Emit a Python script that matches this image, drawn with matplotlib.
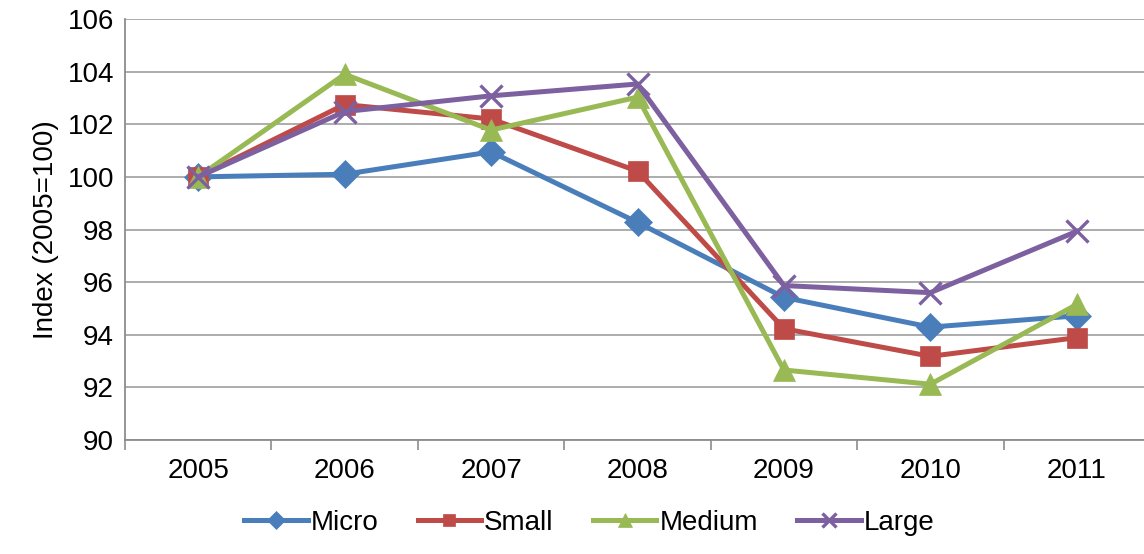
#!/usr/bin/env python3

import matplotlib.pyplot as plt
import numpy as np

plt.rcParams["font.family"] = ["Liberation Sans", "DejaVu Sans"]

years = ["2005", "2006", "2007", "2008", "2009", "2010", "2011"]
micro = [100.0, 100.1, 100.95, 98.27, 95.42, 94.29, 94.72]
small = [100.0, 102.75, 102.2, 100.22, 94.23, 93.18, 93.89]
medium = [100.0, 103.9, 101.78, 103.03, 92.66, 92.12, 95.15]
large = [100.0, 102.48, 103.08, 103.53, 95.87, 95.6, 97.93]

series = [
    ("Micro", micro, "#4A7EBB", "D", 14),
    ("Small", small, "#BE4B48", "s", 14),
    ("Medium", medium, "#98B954", "^", 16),
    ("Large", large, "#7D60A0", "x", 16),
]

fig = plt.figure(figsize=(11.44, 5.54), dpi=100)
ax = fig.add_axes([125 / 1144, 1 - 440 / 554, 1025 / 1144, 421 / 554])

x = np.arange(len(years))
for name, vals, col, mk, ms in series:
    ax.plot(x, vals, color=col, lw=3.6, marker=mk, markersize=ms,
            markeredgewidth=2.4 if mk == "x" else 0.5, markeredgecolor=col,
            label=name)

ax.set_ylim(90, 106)
ax.set_yticks(np.arange(90, 107, 2))
ax.set_xlim(-0.5, len(years) - 0.5)
ax.set_xticks(x)
ax.set_xticklabels(years)
ax.set_xticks(np.arange(-0.5, len(years)), minor=True)
ax.tick_params(axis="x", which="major", length=0, labelsize=20, pad=13)
ax.tick_params(axis="x", which="minor", length=7, color="#8c8c8c", width=1.2)
ax.tick_params(axis="y", length=0, labelsize=20, pad=8)
ax.grid(axis="y", color="#a6a6a6", lw=1.3)
ax.set_axisbelow(True)
for s in ["top", "right"]:
    ax.spines[s].set_visible(False)
for s in ["left", "bottom"]:
    ax.spines[s].set_color("#8c8c8c")
    ax.spines[s].set_linewidth(1.3)
ax.set_ylabel("Index (2005=100)", fontsize=20, labelpad=6)

leg = fig.legend(loc="lower center", bbox_to_anchor=(0.515, -0.012), ncol=4,
                 frameon=False, fontsize=20, handlelength=2.3,
                 handletextpad=0.1, columnspacing=1.4, markerscale=0.65)

fig.savefig("out.png", dpi=100)
